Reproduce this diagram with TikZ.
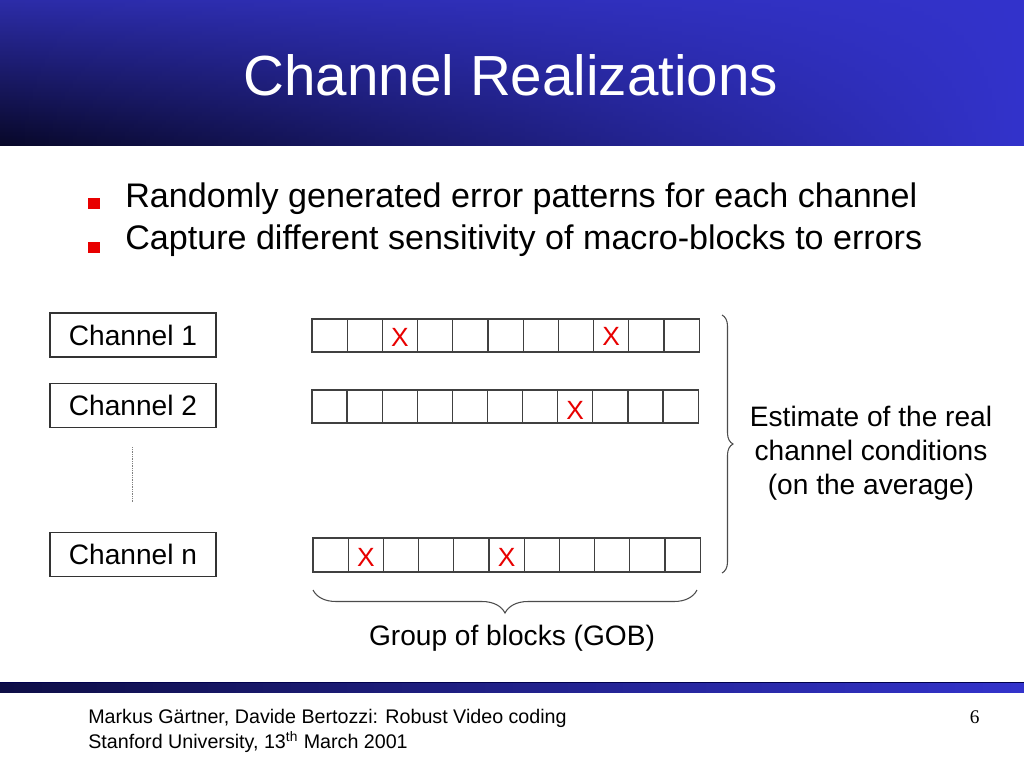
\documentclass[tikz,border=0pt]{standalone}
\usepackage{fontspec}
\setmainfont{Liberation Sans}
\newfontfamily\serifnum{Liberation Serif}
\usetikzlibrary{decorations.pathreplacing,fadings}
\definecolor{hblue}{RGB}{51,51,204}
\definecolor{htop}{RGB}{44,44,168}
\definecolor{hdark}{RGB}{8,8,40}
\definecolor{xred}{RGB}{232,0,0}
\definecolor{fdark}{RGB}{14,14,70}
\tikzfading[name=hdrfade, left color=transparent!0, middle color=transparent!55, right color=transparent!100]
\begin{document}
\begin{tikzpicture}[x=0.02cm, y=-0.02cm,
  chbox/.style={draw=black!80, line width=0.6pt, minimum width=3.32cm, minimum height=0.88cm, inner sep=0pt, font=\fontsize{16}{19}\selectfont},
  cell/.style={draw=black!75, line width=0.7pt, minimum width=0.704cm, minimum height=0.66cm, inner sep=0pt, outer sep=0pt},
  xmark/.style={text=xred, inner sep=0pt, font=\fontsize{15}{18}\selectfont},
  bullet/.style={fill=xred},
  btext/.style={anchor=base west, inner sep=0pt, font=\fontsize{19.4}{23}\selectfont},
  brc/.style={draw=black!70, line width=0.6pt, decorate},
  lbl/.style={font=\fontsize{16}{19.3}\selectfont, align=center, inner sep=0pt},
  foot/.style={anchor=base west, inner sep=0pt, font=\fontsize{11.2}{13}\selectfont}]
\useasboundingbox (0,0) rectangle (1024,768);
\fill[white] (0,0) rectangle (1024,768);
% header
\fill[hblue] (0,0) rectangle (1024,146);
\shade[top color=htop, bottom color=hdark, path fading=hdrfade] (0,0) rectangle (1024,146);
\node[text=white, anchor=base, inner sep=0pt, font=\fontsize{32.2}{38}\selectfont] (title) at (511,95) {Channel Realizations};
% bullets
\fill[bullet] (88,198) rectangle (99.5,209);
\node[btext] (b1) at (125,207) {Randomly generated error patterns for each channel};
\fill[bullet] (88,242) rectangle (99.5,253);
\node[btext] (b2) at (125,249) {Capture different sensitivity of macro-blocks to errors};
% channels
\node[chbox] (ch1) at (133,335) {Channel 1};
\node[chbox] (ch2) at (133,405.5) {Channel 2};
\node[chbox] (chn) at (133,554.5) {Channel n};
\coordinate (dtop) at (132,447);
\coordinate (dbot) at (132,502);
\draw[black!50, line width=0.5pt, dash pattern=on 0.5pt off 0.5pt] (dtop) -- (dbot);
% rows of blocks
\foreach \i in {1,...,11} {
  \node[cell] (a\i) at ({312+(\i-0.5)*35.2},335.5) {};
  \node[cell] (b\i) at ({312+(\i-0.5)*35.1},406.5) {};
  \node[cell, minimum height=0.68cm] (c\i) at ({313+(\i-0.5)*35.2},555) {};
}
\node[xmark] (xa3) at ([yshift=-0.03cm]a3) {X};
\node[xmark] (xa9) at ([yshift=-0.01cm]a9) {X};
\node[xmark] (xb8) at ([yshift=-0.07cm]b8) {X};
\node[xmark] (xc2) at ([yshift=-0.04cm]c2) {X};
\node[xmark] (xc6) at ([yshift=-0.04cm]c6) {X};
% braces
\coordinate (rbt) at (722,315);
\coordinate (rbb) at (722,573);
\draw[brc, decoration={brace, amplitude=0.22cm}] (rbt) -- (rbb);
\coordinate (bbl) at (313,590);
\coordinate (bbr) at (697,590);
\draw[brc, decoration={brace, mirror, amplitude=0.46cm}] (bbl) -- (bbr);
\node[lbl] (est) at (871,453) {Estimate of the real\\channel conditions\\(on the average)};
\node[lbl, anchor=base] (gob) at (512,645) {Group of blocks (GOB)};
% footer
\shade[left color=fdark, right color=hblue] (0,682) rectangle (1024,692);
\draw[black!70!blue, line width=0.4pt] (0,682.5) -- (1024,682.5);
\node[foot] (f1) at (88,723) {Markus Gärtner, Davide Bertozzi: Robust Video coding};
\node[foot] (f2) at (88,748) {Stanford University, 13\textsuperscript{th} March 2001};
\node[anchor=base east, inner sep=0pt, font=\serifnum\fontsize{11}{13}\selectfont] (pg) at (980,723) {6};
\end{tikzpicture}
\end{document}
